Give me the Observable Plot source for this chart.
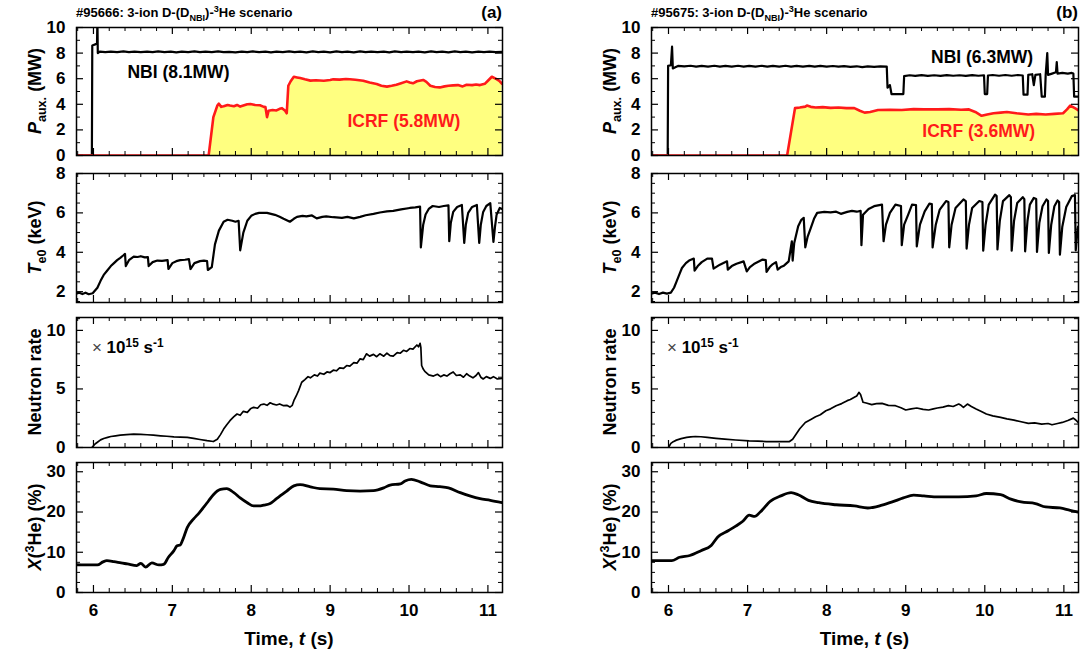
<!DOCTYPE html>
<html><head><meta charset="utf-8">
<script src="https://cdn.jsdelivr.net/npm/d3@7"></script>
<script src="https://cdn.jsdelivr.net/npm/@observablehq/plot@0.6"></script>
<style>
body{margin:0;background:#fff;}
#wrap{position:relative;width:1083px;height:655px;overflow:hidden;}
#wrap svg{position:absolute;}
</style></head><body><div id="wrap"></div>
<script>
// ---------- data (time in s, value) ----------
const nbiA = [[5.78,0],[5.98,0],[5.985,8.6],[6.03,8.7],[6.045,8.75],[6.05,10.6],[6.055,8.0],[6.08,8.12],[6.15,8.08],[6.22,8.12],[6.3,8.07],[6.38,8.13],[6.45,8.08],[6.52,8.12],[6.6,8.07],[6.68,8.12],[6.75,8.08],[6.82,8.13],[6.9,8.07],[6.98,8.11],[7.05,8.06],[7.12,8.12],[7.2,8.08],[7.28,8.13],[7.35,8.07],[7.42,8.11],[7.5,8.08],[7.58,8.13],[7.65,8.07],[7.72,8.1],[7.8,8.06],[7.88,8.12],[7.95,8.08],[8.02,8.13],[8.1,8.07],[8.18,8.11],[8.25,8.06],[8.32,8.12],[8.4,8.08],[8.48,8.13],[8.55,8.07],[8.62,8.11],[8.7,8.06],[8.78,8.13],[8.85,8.08],[8.92,8.11],[9.0,8.06],[9.08,8.13],[9.15,8.08],[9.22,8.11],[9.3,8.06],[9.38,8.13],[9.45,8.07],[9.52,8.12],[9.6,8.08],[9.68,8.11],[9.75,8.06],[9.82,8.13],[9.9,8.08],[9.97,8.12],[10.05,8.07],[10.12,8.11],[10.2,8.06],[10.28,8.13],[10.35,8.08],[10.42,8.11],[10.5,8.06],[10.58,8.13],[10.65,8.08],[10.72,8.11],[10.8,8.06],[10.88,8.12],[10.95,8.08],[11.02,8.11],[11.1,8.07],[11.18,8.1]];
const icrfA = [[5.78,0],[7.46,0],[7.52,3.0],[7.57,3.9],[7.59,4.05],[7.62,3.8],[7.65,3.85],[7.7,3.95],[7.73,3.9],[7.78,3.85],[7.82,3.95],[7.86,3.82],[7.9,3.9],[7.95,4.0],[7.99,4.02],[8.05,3.95],[8.11,3.92],[8.16,3.8],[8.18,3.78],[8.2,3.0],[8.22,3.5],[8.27,3.55],[8.32,3.52],[8.36,3.65],[8.39,3.7],[8.43,3.5],[8.45,3.3],[8.47,5.45],[8.5,5.8],[8.54,6.15],[8.58,6.1],[8.62,6.05],[8.68,5.95],[8.75,5.85],[8.82,5.88],[8.92,5.84],[9.0,5.9],[9.04,5.95],[9.12,5.93],[9.2,5.98],[9.25,5.96],[9.32,5.92],[9.42,5.84],[9.5,5.7],[9.59,5.58],[9.65,5.45],[9.72,5.38],[9.78,5.45],[9.84,5.53],[9.9,5.65],[9.97,5.79],[10.01,5.7],[10.05,5.64],[10.1,5.8],[10.18,5.9],[10.22,5.75],[10.27,5.45],[10.33,5.35],[10.39,5.32],[10.45,5.4],[10.5,5.45],[10.56,5.48],[10.62,5.5],[10.68,5.4],[10.73,5.53],[10.8,5.5],[10.85,5.55],[10.9,5.5],[10.96,5.6],[11.0,5.84],[11.05,6.15],[11.11,5.97],[11.15,5.8],[11.18,5.6]];
const nbiB = [[5.78,0],[5.99,0],[5.995,7.0],[6.03,7.05],[6.045,8.5],[6.055,6.8],[6.08,6.88],[6.12,7.0],[6.2,6.96],[6.28,7.01],[6.35,6.94],[6.42,7.0],[6.5,6.95],[6.58,7.01],[6.65,6.94],[6.72,7.0],[6.8,6.94],[6.88,7.01],[6.95,6.95],[7.02,7.0],[7.1,6.94],[7.18,7.01],[7.25,6.95],[7.32,7.0],[7.4,6.94],[7.48,7.01],[7.55,6.95],[7.62,7.0],[7.7,6.94],[7.78,7.0],[7.85,6.94],[7.92,7.0],[8.0,6.94],[8.08,6.99],[8.15,6.94],[8.22,6.98],[8.3,6.92],[8.38,6.97],[8.45,6.9],[8.52,6.96],[8.6,6.92],[8.68,6.96],[8.76,6.95],[8.77,5.3],[8.8,5.5],[8.82,4.8],[8.97,4.8],[8.98,6.2],[9.05,6.27],[9.12,6.22],[9.2,6.28],[9.28,6.22],[9.36,6.27],[9.44,6.22],[9.52,6.28],[9.6,6.23],[9.68,6.27],[9.76,6.22],[9.84,6.28],[9.92,6.23],[9.99,6.27],[10.0,4.8],[10.03,4.8],[10.04,6.25],[10.1,6.29],[10.18,6.23],[10.26,6.29],[10.34,6.23],[10.42,6.29],[10.48,6.25],[10.49,4.75],[10.54,4.75],[10.55,6.3],[10.6,6.35],[10.62,5.5],[10.64,6.3],[10.7,6.35],[10.72,4.6],[10.76,4.6],[10.77,6.3],[10.79,8.0],[10.8,6.3],[10.85,6.4],[10.9,6.5],[10.91,7.3],[10.92,6.4],[10.98,6.45],[11.05,6.4],[11.1,6.45],[11.12,6.4],[11.13,4.6],[11.18,4.6]];
const icrfB = [[5.78,0],[7.5,0],[7.6,3.7],[7.66,3.75],[7.73,3.82],[7.75,3.9],[7.8,3.8],[7.86,3.75],[7.95,3.78],[8.05,3.72],[8.15,3.75],[8.25,3.7],[8.35,3.7],[8.42,3.5],[8.48,3.35],[8.55,3.4],[8.65,3.55],[8.8,3.58],[8.95,3.55],[9.1,3.62],[9.23,3.6],[9.4,3.6],[9.55,3.62],[9.7,3.58],[9.8,3.6],[9.88,3.4],[9.96,3.1],[10.03,3.2],[10.11,3.3],[10.2,3.35],[10.28,3.4],[10.4,3.3],[10.55,3.2],[10.65,3.25],[10.77,3.2],[10.88,3.25],[10.99,3.3],[11.04,3.6],[11.08,3.9],[11.14,3.7],[11.18,3.55]];
const teA = [[5.78,1.9],[5.82,1.95],[5.86,1.88],[5.9,1.95],[5.94,1.87],[5.99,1.92],[6.05,2.2],[6.09,2.55],[6.13,2.85],[6.17,3.05],[6.22,3.3],[6.26,3.45],[6.3,3.6],[6.34,3.72],[6.38,3.85],[6.4,3.92],[6.41,3.3],[6.45,3.6],[6.51,3.78],[6.56,3.76],[6.6,3.8],[6.65,3.74],[6.69,3.75],[6.7,3.3],[6.75,3.5],[6.81,3.58],[6.87,3.56],[6.94,3.6],[6.95,3.15],[7.0,3.45],[7.05,3.55],[7.1,3.6],[7.16,3.62],[7.21,3.65],[7.23,3.15],[7.28,3.45],[7.35,3.55],[7.4,3.58],[7.44,3.55],[7.45,3.1],[7.5,3.25],[7.54,4.4],[7.59,5.1],[7.65,5.55],[7.7,5.65],[7.76,5.6],[7.8,5.55],[7.84,5.6],[7.86,4.1],[7.9,5.0],[7.95,5.6],[8.0,5.85],[8.05,5.95],[8.1,6.0],[8.2,6.0],[8.25,5.95],[8.3,5.9],[8.36,5.8],[8.41,5.7],[8.49,5.55],[8.54,5.7],[8.58,5.8],[8.65,5.85],[8.7,5.82],[8.77,5.87],[8.83,5.72],[8.9,5.8],[8.95,5.82],[9.04,5.78],[9.15,5.75],[9.22,5.8],[9.3,5.72],[9.38,5.8],[9.45,5.88],[9.55,5.95],[9.63,6.02],[9.72,6.08],[9.8,6.1],[9.9,6.18],[10.01,6.25],[10.08,6.28],[10.14,6.32],[10.15,4.25],[10.18,5.4],[10.21,5.92],[10.25,6.2],[10.3,6.35],[10.38,6.3],[10.44,6.35],[10.5,6.38],[10.51,4.56],[10.53,5.5],[10.56,6.05],[10.61,6.3],[10.67,6.4],[10.7,4.47],[10.72,5.4],[10.75,6.0],[10.8,6.3],[10.86,6.4],[10.89,4.47],[10.91,5.4],[10.94,6.05],[10.98,6.35],[11.03,6.5],[11.07,4.53],[11.09,5.3],[11.11,5.9],[11.15,6.25],[11.18,6.2]];
const teB = [[5.78,1.9],[5.83,1.95],[5.88,1.88],[5.93,1.95],[5.98,1.9],[6.03,1.95],[6.07,2.2],[6.1,2.5],[6.14,2.9],[6.17,3.2],[6.22,3.45],[6.26,3.58],[6.32,3.68],[6.33,3.07],[6.37,3.3],[6.42,3.5],[6.49,3.68],[6.55,3.68],[6.57,3.17],[6.61,3.27],[6.65,3.37],[6.74,3.54],[6.75,3.12],[6.8,3.3],[6.86,3.42],[6.95,3.54],[6.99,3.03],[7.03,3.25],[7.08,3.4],[7.19,3.63],[7.23,3.6],[7.24,3.0],[7.28,3.25],[7.31,3.37],[7.36,3.5],[7.38,3.12],[7.42,3.25],[7.46,3.32],[7.52,3.54],[7.56,4.56],[7.57,3.58],[7.59,4.47],[7.64,5.32],[7.68,5.65],[7.71,5.75],[7.73,4.25],[7.76,4.8],[7.8,5.24],[7.84,5.7],[7.88,6.0],[7.97,6.05],[8.05,6.03],[8.12,6.06],[8.18,5.95],[8.26,6.05],[8.32,6.1],[8.38,6.06],[8.43,6.1],[8.44,4.36],[8.46,5.9],[8.53,6.2],[8.6,6.34],[8.7,6.42],[8.72,4.56],[8.75,5.4],[8.8,6.0],[8.87,6.42],[8.94,6.35],[8.95,4.36],[8.98,5.4],[9.03,5.9],[9.08,6.42],[9.13,6.4],[9.14,4.3],[9.18,5.4],[9.24,6.08],[9.3,6.47],[9.33,6.45],[9.34,4.25],[9.38,5.4],[9.43,6.17],[9.51,6.6],[9.54,6.55],[9.55,4.25],[9.58,5.4],[9.63,6.25],[9.73,6.68],[9.76,6.6],[9.77,4.19],[9.8,5.4],[9.84,6.25],[9.93,6.6],[9.97,6.55],[9.98,4.08],[10.01,5.4],[10.05,6.42],[10.13,6.93],[10.15,6.85],[10.16,4.14],[10.19,5.6],[10.23,6.6],[10.31,6.9],[10.33,6.8],[10.34,4.08],[10.37,5.6],[10.41,6.5],[10.48,6.8],[10.5,6.7],[10.51,4.05],[10.54,5.6],[10.57,6.42],[10.62,6.76],[10.65,6.7],[10.66,4.02],[10.69,5.5],[10.73,6.34],[10.78,6.68],[10.8,6.6],[10.81,3.97],[10.84,5.4],[10.88,6.34],[10.92,6.63],[10.94,6.55],[10.95,3.88],[10.98,5.3],[11.03,6.3],[11.1,6.85],[11.14,6.9],[11.15,4.1],[11.17,5.0],[11.18,5.3]];
const neutA = [[5.98,0],[6.02,0.3],[6.05,0.45],[6.09,0.65],[6.13,0.77],[6.18,0.87],[6.22,0.94],[6.28,1.0],[6.34,1.06],[6.42,1.1],[6.51,1.14],[6.6,1.12],[6.68,1.09],[6.76,1.05],[6.85,1.0],[6.93,0.96],[7.02,0.91],[7.1,0.89],[7.19,0.86],[7.27,0.78],[7.35,0.68],[7.44,0.58],[7.52,0.51],[7.57,0.7],[7.61,1.1],[7.65,1.57],[7.69,1.95],[7.73,2.29],[7.78,2.63],[7.82,2.86],[7.86,2.75],[7.9,3.09],[7.95,3.0],[7.99,3.3],[8.03,3.43],[8.08,3.35],[8.12,3.65],[8.16,3.71],[8.2,3.6],[8.24,3.82],[8.28,3.7],[8.32,3.63],[8.36,3.72],[8.41,3.57],[8.45,3.6],[8.49,3.45],[8.52,3.6],[8.54,4.0],[8.57,4.4],[8.6,4.86],[8.64,5.57],[8.68,5.8],[8.72,6.05],[8.75,5.95],[8.8,6.2],[8.84,6.1],[8.87,6.35],[8.92,6.25],[8.96,6.45],[9.0,6.4],[9.04,6.6],[9.08,6.55],[9.12,6.8],[9.17,6.75],[9.21,7.0],[9.25,6.95],[9.3,7.25],[9.34,7.2],[9.38,7.57],[9.42,7.5],[9.46,8.0],[9.5,7.8],[9.55,7.95],[9.59,7.75],[9.63,8.0],[9.68,7.8],[9.72,8.05],[9.76,7.85],[9.8,7.8],[9.85,8.1],[9.89,8.05],[9.93,8.3],[9.97,8.2],[10.01,8.45],[10.05,8.4],[10.1,8.75],[10.12,8.6],[10.14,8.9],[10.15,8.55],[10.16,7.0],[10.18,6.7],[10.2,6.5],[10.25,6.2],[10.31,6.1],[10.36,6.25],[10.4,6.05],[10.44,6.2],[10.48,6.1],[10.52,6.3],[10.56,6.45],[10.6,6.15],[10.65,6.2],[10.69,6.0],[10.73,6.3],[10.77,6.1],[10.81,5.95],[10.85,6.15],[10.88,6.4],[10.91,6.0],[10.94,5.85],[10.98,6.05],[11.03,5.9],[11.07,6.05],[11.12,5.85],[11.18,5.9]];
const neutB = [[6.0,0],[6.03,0.35],[6.06,0.5],[6.1,0.63],[6.16,0.76],[6.23,0.86],[6.28,0.9],[6.34,0.94],[6.41,0.92],[6.49,0.86],[6.6,0.78],[6.71,0.71],[6.85,0.64],[7.02,0.57],[7.13,0.55],[7.24,0.51],[7.38,0.5],[7.53,0.51],[7.57,0.7],[7.6,1.0],[7.66,1.6],[7.73,2.14],[7.8,2.4],[7.86,2.63],[7.92,2.8],[7.99,3.14],[8.05,3.3],[8.12,3.57],[8.19,3.75],[8.26,4.0],[8.3,4.1],[8.35,4.29],[8.38,4.4],[8.41,4.71],[8.43,4.5],[8.44,4.29],[8.46,3.86],[8.5,3.8],[8.57,3.66],[8.63,3.75],[8.7,3.77],[8.78,3.6],[8.87,3.57],[8.94,3.4],[9.0,3.2],[9.07,3.3],[9.14,3.37],[9.22,3.25],[9.29,3.2],[9.35,3.3],[9.4,3.37],[9.47,3.45],[9.54,3.57],[9.6,3.5],[9.67,3.71],[9.7,3.6],[9.73,3.43],[9.78,3.71],[9.83,3.5],[9.89,3.29],[9.95,3.1],[10.02,2.86],[10.1,2.7],[10.2,2.57],[10.28,2.45],[10.37,2.34],[10.46,2.2],[10.55,2.06],[10.63,2.1],[10.72,2.0],[10.8,2.05],[10.85,1.94],[10.92,2.05],[10.98,2.14],[11.05,2.3],[11.12,2.51],[11.15,2.35],[11.18,2.14]];
const xHeA = [[5.78,6.9],[5.9,6.85],[6.05,6.85],[6.12,7.6],[6.17,7.9],[6.26,7.67],[6.35,7.35],[6.43,7.1],[6.55,6.7],[6.6,7.25],[6.66,6.3],[6.74,7.35],[6.83,6.85],[6.89,7.0],[6.95,8.75],[7.02,10.4],[7.06,11.6],[7.1,11.8],[7.13,13.0],[7.19,16.2],[7.27,18.3],[7.34,19.8],[7.4,21.25],[7.46,22.8],[7.52,24.3],[7.61,25.6],[7.69,25.8],[7.78,24.8],[7.86,23.5],[7.95,22.3],[8.03,21.5],[8.1,21.5],[8.16,21.7],[8.24,22.1],[8.32,23.3],[8.45,25.2],[8.54,26.5],[8.62,26.8],[8.75,26.25],[8.87,25.8],[9.04,25.7],[9.21,25.3],[9.38,25.2],[9.55,25.3],[9.68,26.0],[9.76,26.7],[9.89,27.0],[9.95,27.7],[10.03,28.1],[10.14,27.5],[10.27,26.5],[10.39,26.3],[10.5,26.0],[10.65,24.8],[10.77,24.0],[10.9,23.3],[11.03,22.9],[11.18,22.3]];
const xHeB = [[5.78,7.9],[5.9,7.9],[6.04,7.9],[6.14,8.75],[6.27,9.2],[6.41,10.4],[6.54,11.7],[6.62,13.75],[6.76,15.4],[6.85,16.5],[6.94,17.7],[7.02,19.2],[7.09,18.9],[7.16,20.0],[7.29,22.7],[7.42,24.0],[7.55,24.8],[7.64,24.3],[7.77,22.9],[7.9,22.3],[8.12,21.8],[8.35,21.5],[8.52,21.0],[8.7,21.7],[8.83,22.5],[8.97,23.5],[9.1,24.2],[9.23,24.0],[9.41,23.75],[9.67,23.75],[9.89,24.0],[10.02,24.6],[10.2,24.3],[10.33,23.2],[10.46,22.5],[10.64,22.1],[10.77,21.25],[10.95,21.0],[11.08,20.4],[11.18,20.0]];

// ---------- ticks and labels ----------
const xDomain = [5.785, 11.185];
const xMajor = [6, 7, 8, 9, 10, 11];
const pTicks = [0, 2, 4, 6, 8, 10];
const teTicks = [2, 4, 6, 8];
const nTicks = [0, 5, 10];
const xHeTicks = [0, 10, 20, 30];
const titles = ["#95666: 3-ion D-(D", "#95675: 3-ion D-(D"];
const panelTags = ["(a)", "(b)"];
const nbiLabels = ["NBI (8.1MW)", "NBI (6.3MW)"];
const icrfLabels = ["ICRF (5.8MW)", "ICRF (3.6MW)"];

// ---------- layout ----------
const FONT = '"Liberation Sans", Arial, Helvetica, sans-serif';
const cols = [{left: 0, width: 540, ml: 76, mr: 38}, {left: 540, width: 543, ml: 111, mr: 5}];
const rows = [{top: 0, h: 164, mt: 27, mb: 9}, {top: 164, h: 146, mt: 9, mb: 8}, {top: 310, h: 145, mt: 7, mb: 8}, {top: 455, h: 200, mt: 7, mb: 63}];
const xMinor = d3.range(58, 112, 2).map(d => d / 10).filter(v => !xMajor.includes(v) && v > xDomain[0] && v < xDomain[1]);
const wrap = document.getElementById("wrap");
const xy = {x: d => d[0], y: d => d[1]};

function addRich(svg, x, y, parts, o) {
  const size = o.size;
  const t = d3.select(svg).append("text")
    .attr("transform", `translate(${x},${y})` + (o.rotate ? ` rotate(${o.rotate})` : ""))
    .attr("text-anchor", o.anchor || "middle")
    .attr("font-family", FONT).attr("font-size", size)
    .attr("font-weight", o.weight || "bold").attr("fill", o.fill || "black");
  let shift = 0;
  for (const p of parts) {
    const target = p.b === "sub" ? size * 0.3 : p.b === "sup" ? -size * 0.4 : 0;
    const s = t.append("tspan").text(p.t);
    if (target !== shift) { s.attr("dy", target - shift); shift = target; }
    if (p.b) s.attr("font-size", size * 0.7);
    if (p.i) s.attr("font-style", "italic");
    if (p.w) s.attr("font-weight", p.w);
    if (p.f) s.attr("fill", p.f);
  }
}

function panel(ci, ri, cfg) {
  const c = cols[ci], r = rows[ri];
  const iw = c.width - c.ml - c.mr, ih = r.h - r.mt - r.mb;
  const marks = [
    ...cfg.marks,
    Plot.ruleX(xMinor, {insetTop: ih - 4, strokeWidth: 1}),
    Plot.ruleX(xMinor, {insetBottom: ih - 4, strokeWidth: 1}),
    Plot.ruleX(xMajor, {insetTop: ih - 7, strokeWidth: 1.2}),
    Plot.ruleX(xMajor, {insetBottom: ih - 7, strokeWidth: 1.2}),
    Plot.ruleY(cfg.yMinor, {insetRight: iw - 4, strokeWidth: 1}),
    Plot.ruleY(cfg.yMinor, {insetLeft: iw - 4, strokeWidth: 1}),
    Plot.ruleY(cfg.yMajor, {insetRight: iw - 7, strokeWidth: 1.2}),
    Plot.ruleY(cfg.yMajor, {insetLeft: iw - 7, strokeWidth: 1.2}),
    Plot.frame({strokeWidth: 1.5}),
    Plot.axisY(cfg.yMajor, {tickSize: 0, tickPadding: 11, fontSize: 17, fontWeight: "bold", label: null})
  ];
  if (ri === 3) marks.push(Plot.axisX(xMajor, {tickSize: 0, tickPadding: 11, fontSize: 17, fontWeight: "bold", label: null}));
  const svg = Plot.plot({
    width: c.width, height: r.h,
    marginLeft: c.ml, marginRight: c.mr, marginTop: r.mt, marginBottom: r.mb,
    x: {domain: xDomain, axis: ri === 3 ? undefined : null},
    y: {domain: cfg.yDomain},
    style: {fontFamily: FONT, color: "black", background: "none", overflow: "visible"},
    marks
  });
  svg.style.left = c.left + "px";
  svg.style.top = r.top + "px";
  wrap.appendChild(svg);
  addRich(svg, c.ml - 35, r.mt + ih / 2, cfg.ylabel, {size: 18, rotate: -90});
  if (cfg.after) cfg.after(svg, c, r, iw, ih);
  return svg;
}

const data = [
  {nbi: nbiA, icrf: icrfA, te: teA, neut: neutA, xhe: xHeA, nbiPos: [6.43, 6.48], icrfPos: [9.22, 2.68]},
  {nbi: nbiB, icrf: icrfB, te: teB, neut: neutB, xhe: xHeB, nbiPos: [9.32, 7.63], icrfPos: [9.21, 1.88]}
];

data.forEach((D, ci) => {
  // Row 1: auxiliary heating power
  panel(ci, 0, {
    yDomain: [0, 10], yMajor: pTicks, yMinor: [1, 3, 5, 7, 9],
    ylabel: [{t: "P", i: true}, {t: "aux.", b: "sub"}, {t: " (MW)"}],
    marks: [
      Plot.areaY(D.icrf, {...xy, fill: "#ffff80", clip: true}),
      Plot.line(D.nbi, {...xy, stroke: "black", strokeWidth: 2.2, clip: true}),
      Plot.line(D.icrf, {...xy, stroke: "#ff1a1a", strokeWidth: 2.6, clip: true}),
      Plot.text([nbiLabels[ci]], {x: D.nbiPos[0], y: D.nbiPos[1], text: d => d, textAnchor: "start", fontSize: 17.5, fontWeight: "bold", fill: "black"}),
      Plot.text([icrfLabels[ci]], {x: D.icrfPos[0], y: D.icrfPos[1], text: d => d, textAnchor: "start", fontSize: 17.5, fontWeight: "bold", fill: "#ff1a1a"})
    ],
    after: (svg, c, r, iw) => {
      addRich(svg, c.ml, 17, [{t: titles[ci]}, {t: "NBI", b: "sub"}, {t: ")-"}, {t: "3", b: "sup"}, {t: "He scenario"}], {size: 13, anchor: "start"});
      addRich(svg, c.ml + iw, 18, [{t: panelTags[ci]}], {size: 17, anchor: "end"});
    }
  });
  // Row 2: central electron temperature
  panel(ci, 1, {
    yDomain: [1.45, 8], yMajor: teTicks, yMinor: [1.5, 2.5, 3, 3.5, 4.5, 5, 5.5, 6.5, 7, 7.5],
    ylabel: [{t: "T", i: true}, {t: "e0", b: "sub"}, {t: " (keV)"}],
    marks: [Plot.line(D.te, {...xy, stroke: "black", strokeWidth: 2.2, clip: true})]
  });
  // Row 3: neutron rate
  panel(ci, 2, {
    yDomain: [0, 11.1], yMajor: nTicks, yMinor: [1, 2, 3, 4, 6, 7, 8, 9, 11],
    ylabel: [{t: "Neutron rate"}],
    marks: [Plot.line(D.neut, {...xy, stroke: "black", strokeWidth: 1.7, clip: true})],
    after: (svg) => {
      const sx = svg.scale("x"), sy = svg.scale("y");
      addRich(svg, sx.apply(6.0) - 1, sy.apply(8.0), [{t: "× ", w: "normal", f: "#444"}, {t: "10"}, {t: "15", b: "sup"}, {t: " s"}, {t: "-1", b: "sup"}], {size: 17, anchor: "start"});
    }
  });
  // Row 4: 3He concentration
  panel(ci, 3, {
    yDomain: [0, 32.3], yMajor: xHeTicks, yMinor: [2.5, 5, 7.5, 12.5, 15, 17.5, 22.5, 25, 27.5],
    ylabel: [{t: "X", i: true}, {t: "("}, {t: "3", b: "sup"}, {t: "He) (%)"}],
    marks: [Plot.line(D.xhe, {...xy, stroke: "black", strokeWidth: 2.8, curve: "monotone-x", clip: true})],
    after: (svg, c, r, iw, ih) => {
      addRich(svg, c.ml + iw / 2, r.mt + ih + 53, [{t: "Time, "}, {t: "t", i: true}, {t: " (s)"}], {size: 19});
    }
  });
});
</script></body></html>
